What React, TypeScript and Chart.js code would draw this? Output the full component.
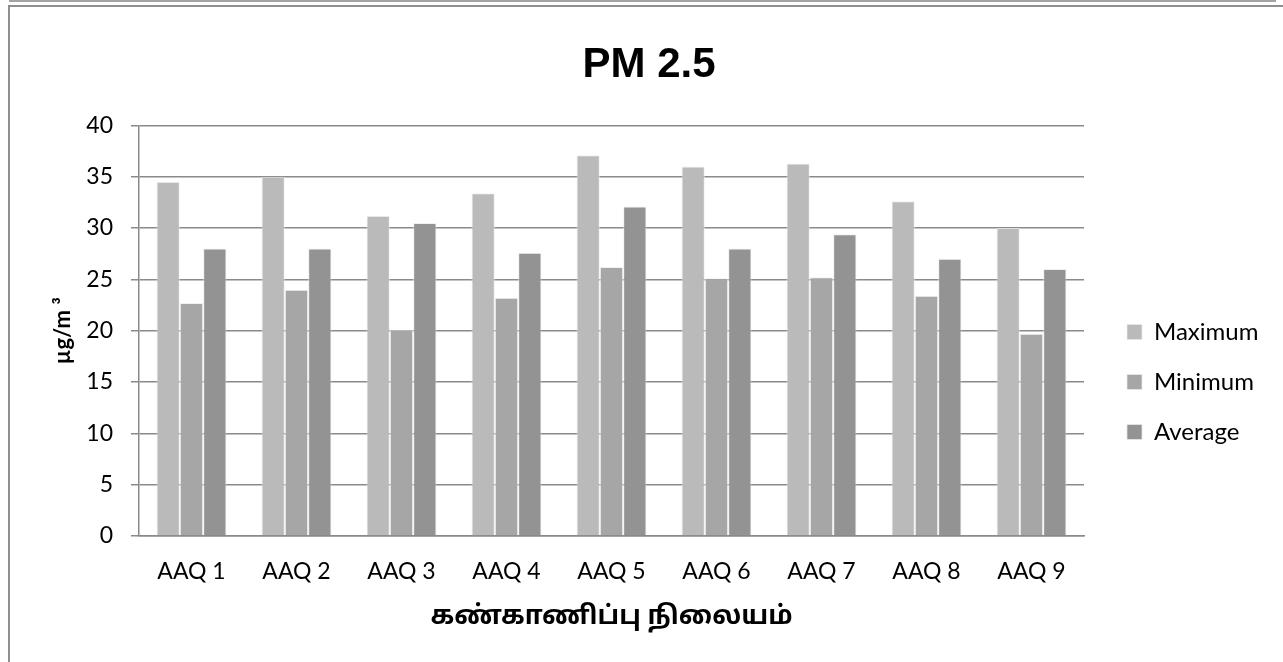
import React, { useEffect, useRef } from "react";
import { Chart, registerables } from "chart.js";

Chart.register(...registerables);

const categories = ["AAQ 1", "AAQ 2", "AAQ 3", "AAQ 4", "AAQ 5", "AAQ 6", "AAQ 7", "AAQ 8", "AAQ 9"];
const maximumValues = [34.5, 35.0, 31.2, 33.4, 37.1, 36.0, 36.3, 32.6, 30.0];
const minimumValues = [22.7, 24.0, 20.1, 23.2, 26.2, 25.1, 25.2, 23.4, 19.7];
const averageValues = [28.0, 28.0, 30.5, 27.6, 32.1, 28.0, 29.4, 27.0, 26.0];
const seriesNames = ["Maximum", "Minimum", "Average"];
const seriesColors = ["#bababa", "#a6a6a6", "#939393"];
const chartTitle = "PM 2.5";
const yAxisTitle = "µg/m ³";
const xAxisTitle = "கண்காணிப்பு நிலையம்";
const yMin = 0;
const yMax = 40;
const yStep = 5;

const W = 1283;
const H = 662;
const PLOT_LEFT = 139;
const PLOT_RIGHT = 1084;
const PLOT_BOTTOM = 536;
const LEGEND_BOX_GAP = 43;
const LEGEND_SHIFT_Y = 51;
const LAYOUT_LEFT = 15;

const latin = "Lato, 'Open Sans', sans-serif";
const tamil = "'Noto Sans Tamil', 'Lohit Tamil', 'Noto Sans', 'DejaVu Sans', sans-serif";
const gridColor = "#8a8a8a";

const legendPlacer = {
  id: "legendPlacer",
  afterLayout(chart: any) {
    const l = chart.legend;
    if (!l) return;
    const w = l.width;
    const pad = l.options.labels.padding;
    l.left = chart.chartArea.right + LEGEND_BOX_GAP - pad;
    l.right = l.left + w;
    l.top += LEGEND_SHIFT_Y;
    l.bottom += LEGEND_SHIFT_Y;
  },
};

export default function App() {
  const ref = useRef<HTMLCanvasElement | null>(null);

  useEffect(() => {
    if (!ref.current) return;
    const values = [maximumValues, minimumValues, averageValues];
    const chart = new Chart(ref.current, {
      type: "bar",
      data: {
        labels: categories,
        datasets: seriesNames.map((name, i) => ({
          label: name,
          data: values[i],
          backgroundColor: seriesColors[i],
          borderColor: "rgba(235,235,235,0.7)",
          borderWidth: 1,
          categoryPercentage: 0.667,
          barPercentage: 1.0,
        })),
      },
      plugins: [legendPlacer],
      options: {
        responsive: false,
        animation: false,
        layout: { padding: { left: LAYOUT_LEFT, right: 0, top: 0, bottom: 0 } },
        plugins: {
          tooltip: { enabled: false },
          title: {
            display: true,
            text: chartTitle,
            color: "#000",
            font: { family: "'Liberation Sans', Arial, sans-serif", size: 42, weight: "bold" },
            padding: { top: 40, bottom: 35 },
          },
          legend: {
            display: true,
            position: "right",
            align: "center",
            labels: {
              boxWidth: 15,
              boxHeight: 15,
              padding: 26,
              color: "#000",
              font: { family: latin, size: 24 },
            },
          },
        },
        scales: {
          x: {
            grid: { display: false, drawTicks: false },
            border: { display: true, color: gridColor, width: 1.5 },
            ticks: { color: "#000", font: { family: latin, size: 23 }, padding: 22 },
            title: {
              display: true,
              text: xAxisTitle,
              color: "#000",
              font: { family: tamil, size: 26, weight: "bold" },
              padding: { top: 0, bottom: 28 },
            },
            afterFit: (s: any) => {
              s.height = H - PLOT_BOTTOM;
            },
          },
          y: {
            min: yMin,
            max: yMax,
            ticks: { stepSize: yStep, color: "#000", font: { family: latin, size: 23 }, padding: 18 },
            grid: { color: gridColor, lineWidth: 1.5, tickLength: 8, drawTicks: true },
            border: { display: true, color: gridColor, width: 1.5 },
            title: {
              display: true,
              text: yAxisTitle,
              color: "#000",
              font: { family: latin, size: 22, weight: "bold" },
              padding: { top: 35, bottom: 0 },
            },
            afterFit: (s: any) => {
              s.width = PLOT_LEFT - LAYOUT_LEFT;
            },
          },
          spacer: {
            type: "linear",
            position: "right",
            display: true,
            grid: { display: false, drawTicks: false },
            border: { display: false },
            ticks: { display: false },
            afterFit: (s: any) => {
              const lw = s.chart.legend ? s.chart.legend.width : 0;
              s.width = Math.max(0, W - PLOT_RIGHT - lw);
            },
          },
        },
      } as any,
    });
    return () => chart.destroy();
  }, []);

  return (
    <div style={{ position: "fixed", left: 0, top: 0, width: W, height: H, background: "#fff", overflow: "hidden" }}>
      <canvas ref={ref} width={W} height={H} style={{ display: "block", position: "absolute", left: 0, top: 0 }} />
      <div style={{ position: "absolute", left: 9, top: 0, width: 1267, height: 2, background: "#a3a3a3" }} />
      <div style={{ position: "absolute", left: 8, top: 5, width: W - 8, height: 2, background: "#8f8f8f" }} />
      <div style={{ position: "absolute", left: 8, top: 5, width: 2, height: H - 5, background: "#8f8f8f" }} />
    </div>
  );
}
